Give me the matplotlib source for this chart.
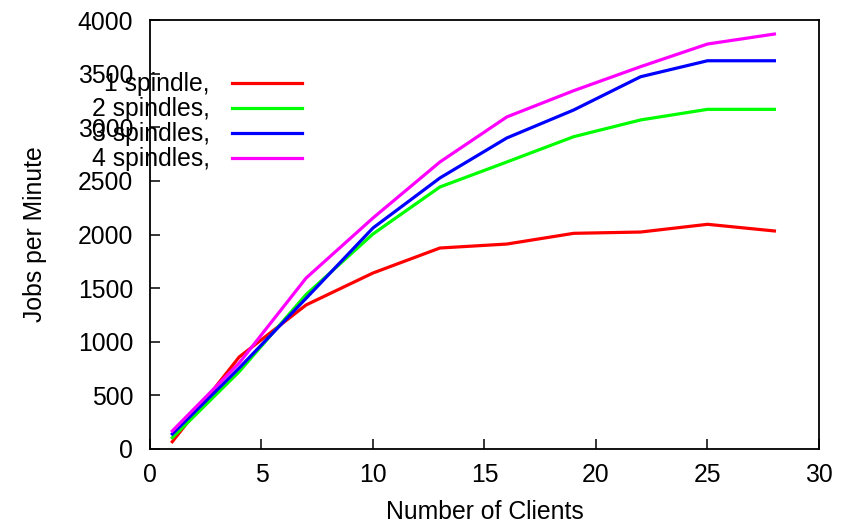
import matplotlib
matplotlib.use("Agg")
import matplotlib.pyplot as plt
from matplotlib.lines import Line2D

clients = [1, 4, 7, 10, 13, 16, 19, 22, 25, 28]
spindle1 = [68, 858, 1343, 1641, 1874, 1911, 2011, 2023, 2095, 2033]
spindle2 = [105, 721, 1440, 2005, 2443, 2676, 2912, 3068, 3167, 3167]
spindle3 = [140, 755, 1405, 2061, 2527, 2900, 3161, 3471, 3620, 3620]
spindle4 = [168, 802, 1594, 2154, 2676, 3096, 3341, 3565, 3776, 3869]
labels = ["1 spindle,", "2 spindles,", "3 spindles,", "4 spindles,"]
colors = ["#ff0000", "#00ff00", "#0000ff", "#ff00ff"]
xticks = [0, 5, 10, 15, 20, 25, 30]
yticks = [0, 500, 1000, 1500, 2000, 2500, 3000, 3500, 4000]

FS = 17.8
plt.rcParams['font.family'] = ['Liberation Sans', 'DejaVu Sans']
W, H = 854, 524
fig = plt.figure(figsize=(W / 100, H / 100), dpi=100)
L, R, T, B = 150, 819, 20, 449
ax = fig.add_axes([L / W, 1 - B / H, (R - L) / W, (B - T) / H])

series = [spindle1, spindle2, spindle3, spindle4]
for ys, c in zip(series, colors):
    ax.plot(clients, ys, color=c, lw=2.3, solid_joinstyle='miter', zorder=3)

ax.set_xlim(0, 30)
ax.set_ylim(0, 4000)
ax.set_xticks(xticks)
ax.set_yticks(yticks)
ax.tick_params(direction='in', length=7.2, width=1.1, labelsize=FS, top=False, right=False)
ax.tick_params(axis='x', pad=10)
ax.tick_params(axis='y', pad=12)
for s in ax.spines.values():
    s.set_linewidth(1.3)

fig.text(35 / W, 1 - 234 / H, "Jobs per Minute", rotation=90, ha='center', va='center', fontsize=FS)
fig.text(485 / W, 1 - 512 / H, "Number of Clients", ha='center', va='center', fontsize=FS)

# legend (gnuplot style key)
rows = [83, 108, 133, 158]
for lab, c, yy in zip(labels, colors, rows):
    fig.text(210 / W, 1 - (yy + 1) / H, lab, ha='right', va='center', fontsize=FS, zorder=5)
    fig.add_artist(Line2D([232 / W, 302 / W], [1 - yy / H, 1 - yy / H], color=c, lw=2.3,
                          transform=fig.transFigure))

fig.savefig("out.png", dpi=100)
